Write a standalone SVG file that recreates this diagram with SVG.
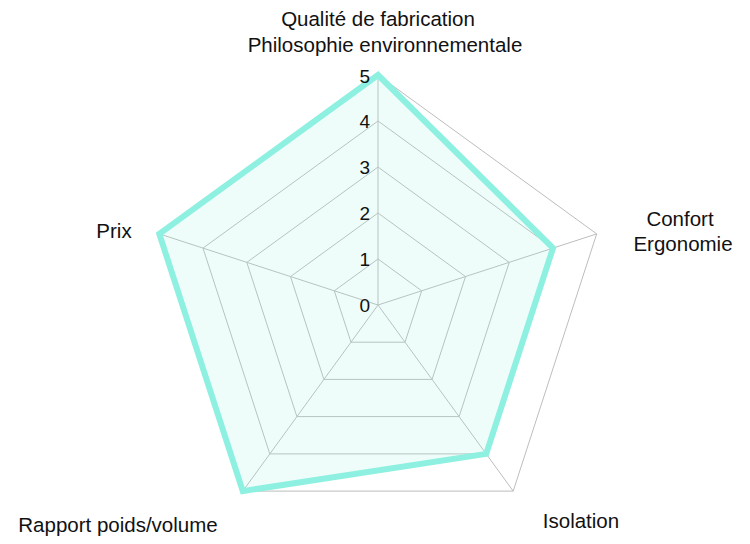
<svg xmlns="http://www.w3.org/2000/svg" width="750" height="544" viewBox="0 0 750 544">
<style>
.g{fill:none;stroke:#bdbdbd;stroke-width:1}
.t{font-family:"Liberation Sans",Arial,sans-serif;font-size:20.5px;fill:#111;text-anchor:middle;dominant-baseline:central}
.k{font-family:"Liberation Sans",Arial,sans-serif;font-size:19px;fill:#111;text-anchor:end;dominant-baseline:central}
</style>
<rect width="750" height="544" fill="#fff"/>
<g id="grid">
<polygon class="g" points="378,75 596.7,233.9 513.2,491.1 242.8,491.1 159.3,233.9"/>
<polygon class="g" points="378,121 553,248.1 486.2,453.9 269.8,453.9 203,248.1"/>
<polygon class="g" points="378,167 509.2,262.4 459.1,416.6 296.9,416.6 246.8,262.4"/>
<polygon class="g" points="378,213 465.5,276.6 432.1,379.4 323.9,379.4 290.5,276.6"/>
<polygon class="g" points="378,259 421.7,290.8 405,342.2 351,342.2 334.3,290.8"/>
</g>
<g id="connectors">
<line class="g" x1="378" y1="305" x2="378" y2="75"/>
<line class="g" x1="378" y1="305" x2="596.7" y2="233.9"/>
<line class="g" x1="378" y1="305" x2="513.2" y2="491.1"/>
<line class="g" x1="378" y1="305" x2="242.8" y2="491.1"/>
<line class="g" x1="378" y1="305" x2="159.3" y2="233.9"/>
</g>
<g id="data">
<polygon points="378,75 553,248.1 486.2,453.9 242.8,491.1 159.3,233.9" fill="#8ef0e0" fill-opacity="0.15" stroke="#8ef0e0" stroke-width="6" stroke-linejoin="miter"/>
</g>
<g id="ticks">
<text class="k" x="370" y="305">0</text>
<text class="k" x="370" y="259">1</text>
<text class="k" x="370" y="213">2</text>
<text class="k" x="370" y="167">3</text>
<text class="k" x="370" y="121">4</text>
<text class="k" x="370" y="76">5</text>
</g>
<g id="axis-top"><text class="t" x="378" y="18">Qualité de fabrication</text><text class="t" x="385" y="44">Philosophie environnementale</text></g>
<g id="axis-right"><text class="t" x="680" y="218">Confort</text><text class="t" x="683" y="243">Ergonomie</text></g>
<g id="axis-br"><text class="t" x="581" y="520">Isolation</text></g>
<g id="axis-bl"><text class="t" x="118" y="524">Rapport poids/volume</text></g>
<g id="axis-left"><text class="t" x="114" y="230">Prix</text></g>
</svg>
